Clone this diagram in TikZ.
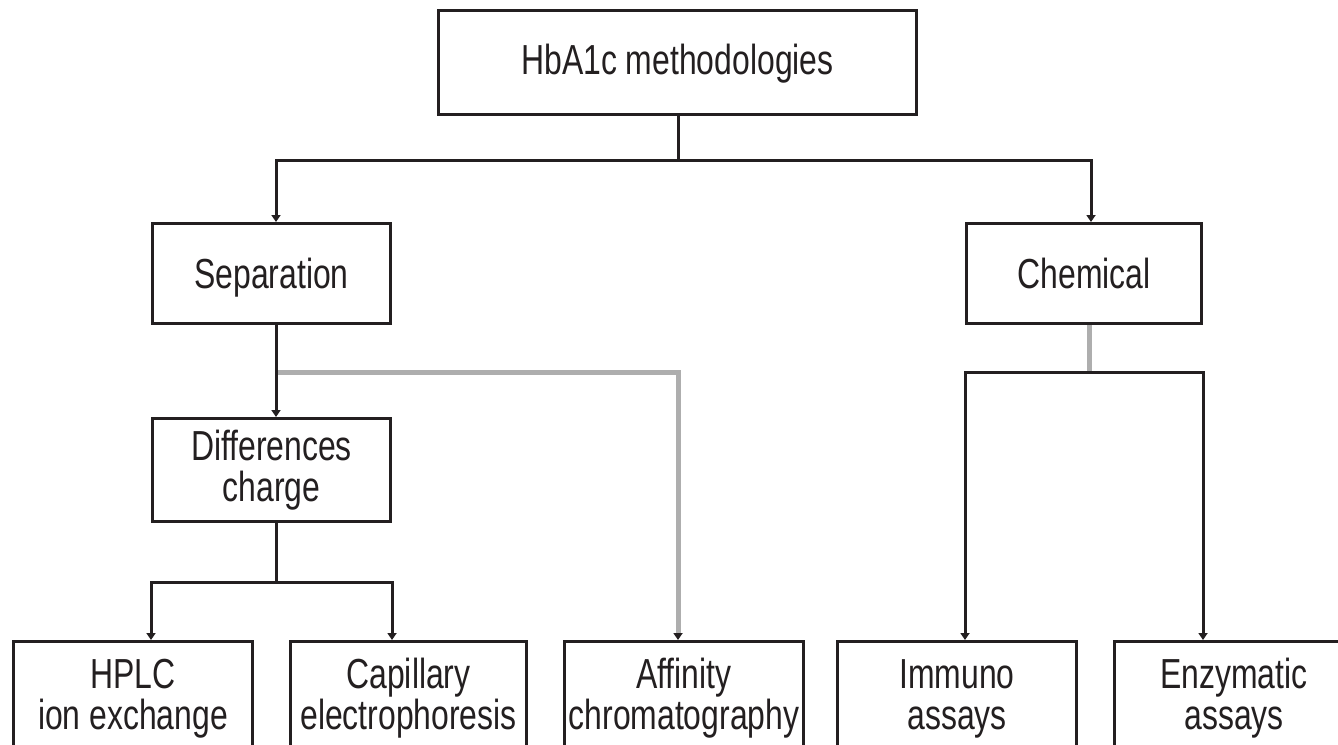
\documentclass[tikz,border=0pt]{standalone}
\usepackage{fontspec}
\setmainfont{Liberation Sans}[FakeStretch=0.76]
\usetikzlibrary{arrows.meta}
\definecolor{ink}{HTML}{231F20}
\definecolor{conngray}{HTML}{AEAEAE}
\tikzset{
  boxnode/.style={draw=ink, line width=3pt, rectangle, inner sep=0pt, align=center,
    text=ink, font=\fontsize{42}{41}\selectfont},
  linkline/.style={draw=ink, line width=3pt},
  graylink/.style={draw=conngray, line width=5pt},
  tipped/.style={-{Triangle[width=9pt,length=7pt,color=ink]}},
}
\newcommand{\toptext}[1]{\parbox[t][150pt][t]{236pt}{\centering\rule{0pt}{31pt}#1}}
\begin{document}
\begin{tikzpicture}[x=1pt,y=-1pt]
\useasboundingbox (0,0) rectangle (1338,744);
\clip (0,0) rectangle (1338,744);
\fill[white] (0,0) rectangle (1338,744);
% nodes
\node[boxnode, minimum width=478pt, minimum height=104pt, text height=31pt, text depth=7pt] (top) at (677.5,62) {HbA1c methodologies};
\node[boxnode, minimum width=238pt, minimum height=100pt, text height=31pt, text depth=2pt] (sep) at (271.5,273.5) {Separation};
\node[boxnode, minimum width=235pt, minimum height=100pt, text height=31pt, text depth=2pt] (chem) at (1084,273.5) {Chemical};
\node[boxnode, minimum width=238pt, minimum height=103pt] (diff) at (271.5,470) {Differences\\charge};
\node[boxnode, anchor=north, minimum width=239pt, inner ysep=16pt] (hplc) at (133,640) {\toptext{HPLC\\ion exchange}};
\node[boxnode, anchor=north, minimum width=234pt, inner ysep=16pt] (cap) at (408.5,640) {\toptext{Capillary\\electrophoresis}};
\node[boxnode, anchor=north, minimum width=239pt, inner ysep=16pt] (aff) at (684,640) {\toptext{Affinity\\chromatography}};
\node[boxnode, anchor=north, minimum width=239pt, inner ysep=16pt] (imm) at (957,640) {\toptext{Immuno\\assays}};
\node[boxnode, anchor=north, minimum width=239pt, inner ysep=16pt] (enz) at (1234,640) {\toptext{Enzymatic\\assays}};
% junction coordinates
\coordinate (j0) at (678,160);
\coordinate (jl) at (276,160);
\coordinate (jr) at (1091,160);
\coordinate (s2) at (276,372);
\coordinate (ga) at (678,372);
\coordinate (d1) at (276,582);
\coordinate (dl) at (151,582);
\coordinate (dr) at (392,582);
\coordinate (c1) at (1089,372);
\coordinate (cl) at (965,372);
\coordinate (cr) at (1203,372);
% top level
\draw[linkline] (j0 |- top.south) -- (j0);
\draw[linkline, line cap=rect] (jl) -- (jr);
\draw[linkline, tipped] (jl) -- (jl |- sep.north);
\draw[linkline, tipped] (jr) -- (jr |- chem.north);
% separation branch
\draw[graylink, tipped, line join=miter] (s2) -- (ga) -- (ga |- aff.north);
\draw[linkline, tipped] (jl |- sep.south) -- (jl |- diff.north);
% differences branch
\draw[linkline] (jl |- diff.south) -- (d1);
\draw[linkline, line cap=rect] (dl) -- (dr);
\draw[linkline, tipped] (dl) -- (dl |- hplc.north);
\draw[linkline, tipped] (dr) -- (dr |- cap.north);
% chemical branch
\draw[graylink] (c1 |- chem.south) -- (c1);
\draw[linkline, line cap=rect] (cl) -- (cr);
\draw[linkline, tipped] (cl) -- (cl |- imm.north);
\draw[linkline, tipped] (cr) -- (cr |- enz.north);
\end{tikzpicture}
\end{document}
